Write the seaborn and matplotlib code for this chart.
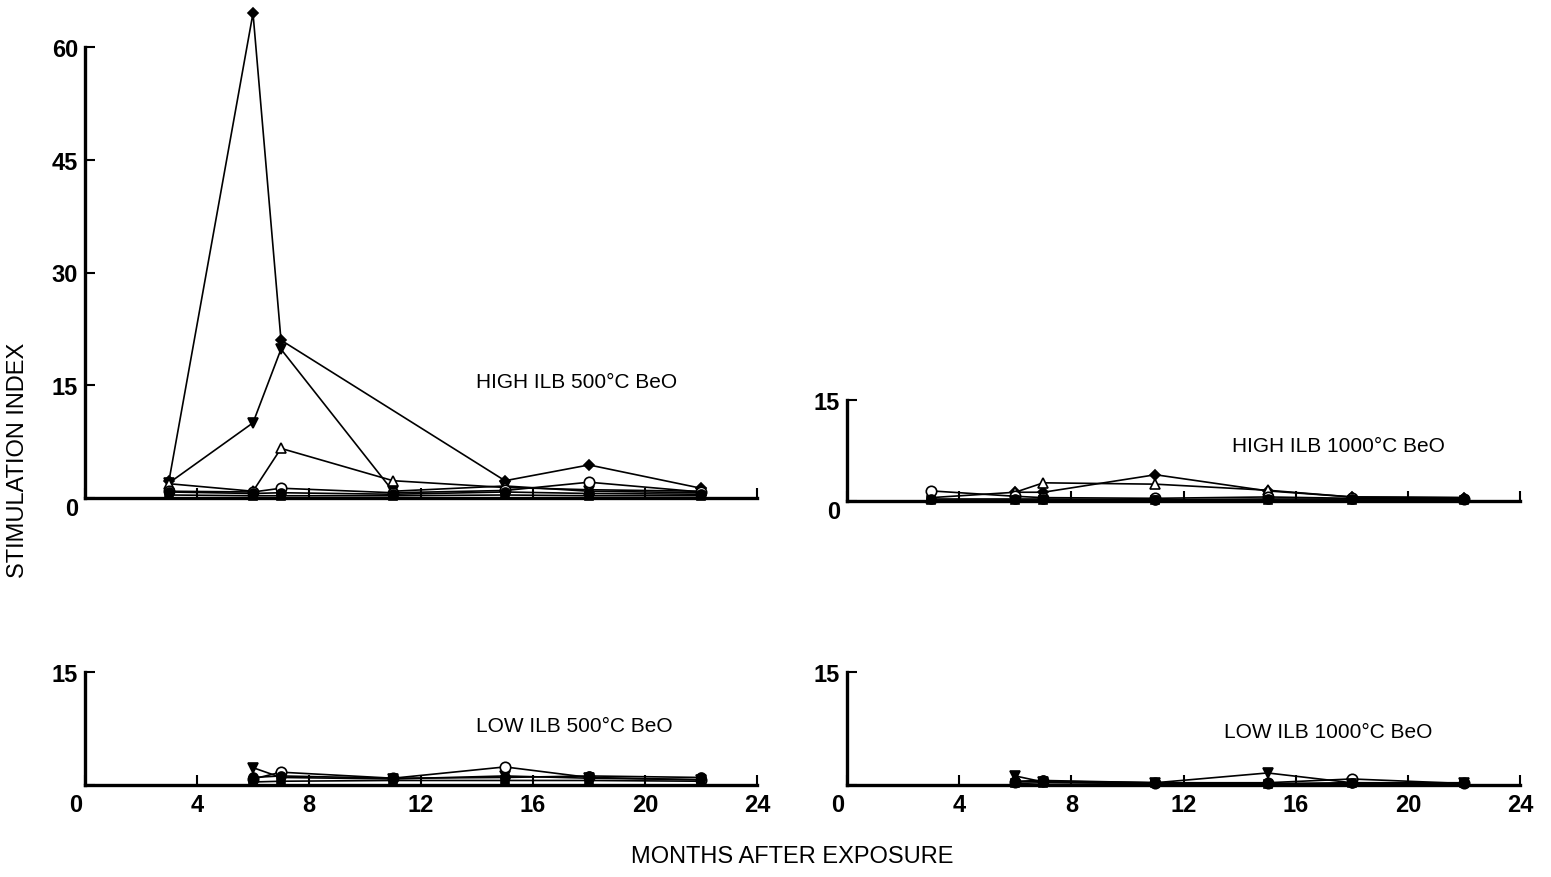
import numpy as np
import pandas as pd
import matplotlib
matplotlib.use("Agg")
import matplotlib.pyplot as plt
import matplotlib.transforms as mtransforms
import seaborn as sns

sns.set_theme(style="ticks")
plt.rcParams["font.family"] = ["Liberation Sans", "DejaVu Sans"]

# ---------------- data ----------------
months_high = [3, 6, 7, 11, 15, 18, 22]
months_low = [6, 7, 11, 15, 18, 22]

# HIGH ILB 500 C BeO
hi500_diamond = [2.3, 64.5, 21.0, np.nan, 2.3, 4.4, 1.3]
hi500_vtri = [2.0, 10.0, 19.8, 0.9, 1.6, 0.9, 0.7]
hi500_otri = [1.9, 0.9, 6.6, 2.3, 1.4, 1.1, 0.9]
hi500_ocirc = [0.9, 0.8, 1.3, 0.7, 1.0, 2.1, 0.8]
hi500_fcirc = [0.8, 0.6, 0.7, 0.5, 0.8, 0.6, 0.5]
hi500_square = [0.4, 0.3, 0.3, 0.3, 0.4, 0.3, 0.3]

# HIGH ILB 1000 C BeO
hi1000_diamond = [np.nan, 1.3, 1.3, 3.9, 1.5, 0.6, 0.5]
hi1000_otri = [0.5, 1.3, 2.7, 2.5, 1.6, 0.6, 0.5]
hi1000_ocirc = [1.5, 0.7, 0.5, 0.4, 0.6, 0.4, 0.3]
hi1000_fcirc = [0.3, 0.3, 0.3, 0.2, 0.3, 0.3, 0.3]
hi1000_square = [0.2, 0.2, 0.2, 0.2, 0.2, 0.2, 0.2]

# LOW ILB 500 C BeO
lo500_vtri = [2.3, 1.0, 0.8, 1.2, 0.9, 0.7]
lo500_ocirc = [0.8, 1.7, 0.9, 2.4, 1.0, 0.7]
lo500_fcirc = [1.0, 1.2, 0.9, 1.0, 1.2, 1.0]
lo500_square = [0.4, 0.5, 0.6, 0.6, 0.6, 0.5]

# LOW ILB 1000 C BeO
lo1000_vtri = [1.2, 0.4, 0.3, 1.6, 0.3, 0.2]
lo1000_ocirc = [0.4, 0.5, 0.3, 0.3, 0.8, 0.2]
lo1000_fcirc = [0.5, 0.6, 0.3, 0.2, 0.3, 0.3]
lo1000_square = [0.2, 0.3, 0.2, 0.1, 0.2, 0.2]

x_ticks = [0, 4, 8, 12, 16, 20, 24]
y_ticks_big = [0, 15, 30, 45, 60]
y_ticks_small = [0, 15]

panel_titles = ["HIGH ILB 500°C BeO", "HIGH ILB 1000°C BeO",
                "LOW ILB 500°C BeO", "LOW ILB 1000°C BeO"]
ylabel = "STIMULATION INDEX"
xlabel = "MONTHS AFTER EXPOSURE"

# marker styles: (marker, facecolor, size)
STY = {
    "diamond": ("D", "black", 5.5),
    "vtri": ("v", "black", 7.5),
    "otri": ("^", "white", 6.5),
    "ocirc": ("o", "white", 7.5),
    "fcirc": ("o", "black", 6.5),
    "square": ("s", "black", 5.5),
}

panels = [
    (months_high, {"diamond": hi500_diamond, "vtri": hi500_vtri, "otri": hi500_otri,
                   "ocirc": hi500_ocirc, "fcirc": hi500_fcirc, "square": hi500_square}),
    (months_high, {"diamond": hi1000_diamond, "otri": hi1000_otri, "ocirc": hi1000_ocirc,
                   "fcirc": hi1000_fcirc, "square": hi1000_square}),
    (months_low, {"vtri": lo500_vtri, "ocirc": lo500_ocirc, "fcirc": lo500_fcirc,
                  "square": lo500_square}),
    (months_low, {"vtri": lo1000_vtri, "ocirc": lo1000_ocirc, "fcirc": lo1000_fcirc,
                  "square": lo1000_square}),
]

fig = plt.figure(figsize=(15.51, 8.78), dpi=100)
W, H = 1551, 878


def box(x0, x1, ytop, ybot):
    return [x0 / W, 1 - ybot / H, (x1 - x0) / W, (ybot - ytop) / H]


rects = [box(85, 757, 48, 499), box(847, 1520, 401, 502),
         box(85, 757, 673, 786), box(847, 1520, 673, 786)]
ylims = [60, 15, 15, 15]
yticks = [y_ticks_big, y_ticks_small, y_ticks_small, y_ticks_small]
title_pos = [(577, 383), (1338, 446), (574, 727), (1328, 733)]

for i, (rect, (months, series)) in enumerate(zip(rects, panels)):
    ax = fig.add_axes(rect)
    for key, vals in series.items():
        df = pd.DataFrame({"month": months, "value": vals}).dropna()
        mk, fc, ms = STY[key]
        sns.lineplot(data=df, x="month", y="value", ax=ax, color="black",
                     marker=mk, markersize=ms, markerfacecolor=fc,
                     markeredgecolor="black", markeredgewidth=1.2,
                     linewidth=1.2, clip_on=False, estimator=None, legend=False)
    ax.set_xlim(0, 24)
    ax.set_ylim(0, ylims[i])
    ax.set_xticks(x_ticks)
    ax.set_yticks(yticks[i])
    ax.set_xlabel("")
    ax.set_ylabel("")
    for s in ["top", "right"]:
        ax.spines[s].set_visible(False)
    for s in ["left", "bottom"]:
        ax.spines[s].set_linewidth(2.4)
        ax.spines[s].set_color("black")
    ax.tick_params(axis="both", direction="in", length=7, width=1.5,
                   colors="black", labelsize=17, pad=6)
    ax.tick_params(axis="y", pad=5)
    for lab in ax.get_xticklabels() + ax.get_yticklabels():
        lab.set_fontweight("bold")
    if i < 2:
        # top panels: no month labels, the "0" of the y axis sits a bit low
        ax.set_xticklabels([""] * 7)
        ylab0 = ax.get_yticklabels()[0]
        ylab0.set_transform(ylab0.get_transform() +
                            mtransforms.ScaledTranslation(0, -8 / 100, fig.dpi_scale_trans))
    else:
        # bottom panels: a single "0" at the corner serves both axes
        ax.set_yticklabels([""] + [str(v) for v in yticks[i][1:]])
        for lab in ax.get_yticklabels():
            lab.set_fontweight("bold")
        xlab0 = ax.get_xticklabels()[0]
        xlab0.set_transform(xlab0.get_transform() +
                            mtransforms.ScaledTranslation(-9 / 100, 0, fig.dpi_scale_trans))
    ax.set_facecolor("none")
    tx, ty = title_pos[i]
    fig.text(tx / W, 1 - ty / H, panel_titles[i], ha="center", va="center",
             fontsize=15, color="black")

fig.text(18 / W, 1 - 460 / H, ylabel, rotation=90, ha="center", va="center",
         fontsize=17, color="black")
fig.text(792 / W, 1 - 857 / H, xlabel, ha="center", va="center",
         fontsize=17, color="black")

fig.savefig("out.png", dpi=100, facecolor="white")
